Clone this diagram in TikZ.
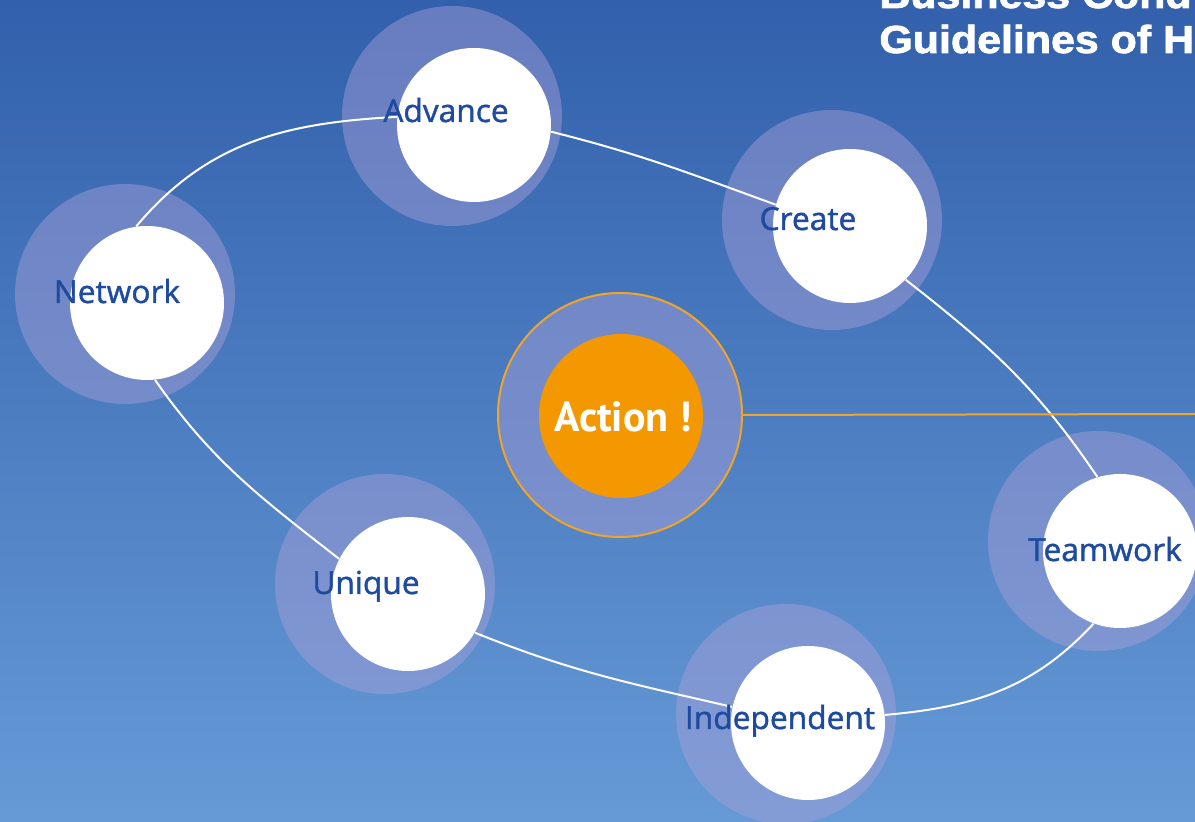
\documentclass[tikz,border=0pt]{standalone}
\usepackage{fontspec}
\setmainfont{Open Sans}
\newfontfamily\labfont[FakeBold=1.3]{Open Sans}
\newfontfamily\titlefont[FakeStretch=1.1,FakeBold=2]{Liberation Sans}
\newfontfamily\actfont{PT Sans}
\definecolor{bgtop}{RGB}{50,96,172}
\definecolor{bgbot}{RGB}{102,154,214}
\definecolor{halo}{RGB}{170,160,215}
\definecolor{lbl}{RGB}{30,75,160}
\definecolor{act}{RGB}{243,152,0}
\definecolor{actline}{RGB}{240,165,40}
\begin{document}
\begin{tikzpicture}[x=0.5pt,y=0.5pt,
  halo/.style={circle,fill=halo,fill opacity=0.45,minimum size=110pt,inner sep=0pt},
  disc/.style={circle,fill=white,minimum size=77pt,inner sep=0pt},
  lab/.style={anchor=base,text=lbl,inner sep=0pt,font=\labfont\fontsize{15.85}{18}\selectfont},
  link/.style={draw=white,line width=1pt}]
	\useasboundingbox (0,0) rectangle (1195,-822);
	\clip (0,0) rectangle (1195,-822);
	\shade [top color=bgtop,bottom color=bgbot] (0,0) rectangle (1195,-822);

	\node [halo] (hadv) at (452,-116) {};
	\node [halo] (hcre) at (832,-220) {};
	\node [halo] (hnw) at (125,-294) {};
	\node [halo] (huni) at (385,-584) {};
	\node [halo] (hind) at (786,-714) {};
	\node [halo] (htw) at (1098,-541) {};

	\node [disc] (adv) at (474,-125) {};
	\node [disc] (cre) at (850,-226) {};
	\node [disc] (nw) at (147,-303) {};
	\node [disc] (uni) at (408,-594) {};
	\node [disc] (ind) at (808,-723) {};
	\node [disc] (tw) at (1120,-551) {};

	\draw [link] (nw.98) to [out=50,in=183] (adv.174);
	\draw [link] (adv.-5) to [out=-14,in=160] (cre.164);
	\draw [link] (cre.-44) to [out=-38,in=124] (tw.107);
	\draw [link] (tw.250) to [out=227,in=5] (ind.6);
	\draw [link] (ind.168) to [out=167,in=-22] (uni.-30);
	\draw [link] (uni.153) to [out=142,in=-55] (nw.-84);

	\node [lab] (ladv) at (446,-122) {Advance};
	\node [lab] (lcre) at (808,-230) {Create};
	\node [lab] (lnw) at (117,-303) {Network};
	\node [lab] (luni) at (366,-594) {Unique};
	\node [lab] (lind) at (780,-729) {Independent};
	\node [lab] (ltw) at (1105,-561) {Teamwork};

	\node [halo,draw=actline,draw opacity=1,line width=1pt,minimum size=122pt] (hact) at (620,-415) {};
	\node [circle,fill=act,minimum size=82pt,inner sep=0pt] (act) at (621,-416) {};
	\node [anchor=base,text=white,inner sep=0pt,font=\actfont\bfseries\fontsize{21}{24}\selectfont] (lact) at (623,-432) {Action !};
	\coordinate (rim) at (1195,-414);
	\draw [actline,line width=1pt] (hact.east) -- (rim);

	\node [anchor=base west,text=white,inner sep=0pt,font=\titlefont\bfseries\fontsize{19.5}{22}\selectfont] (ttl1) at (879,-8) {Business Cond};
	\node [anchor=base west,text=white,inner sep=0pt,font=\titlefont\bfseries\fontsize{19.5}{22}\selectfont] (ttl2) at (879,-53) {Guidelines of H};
\end{tikzpicture}
\end{document}
